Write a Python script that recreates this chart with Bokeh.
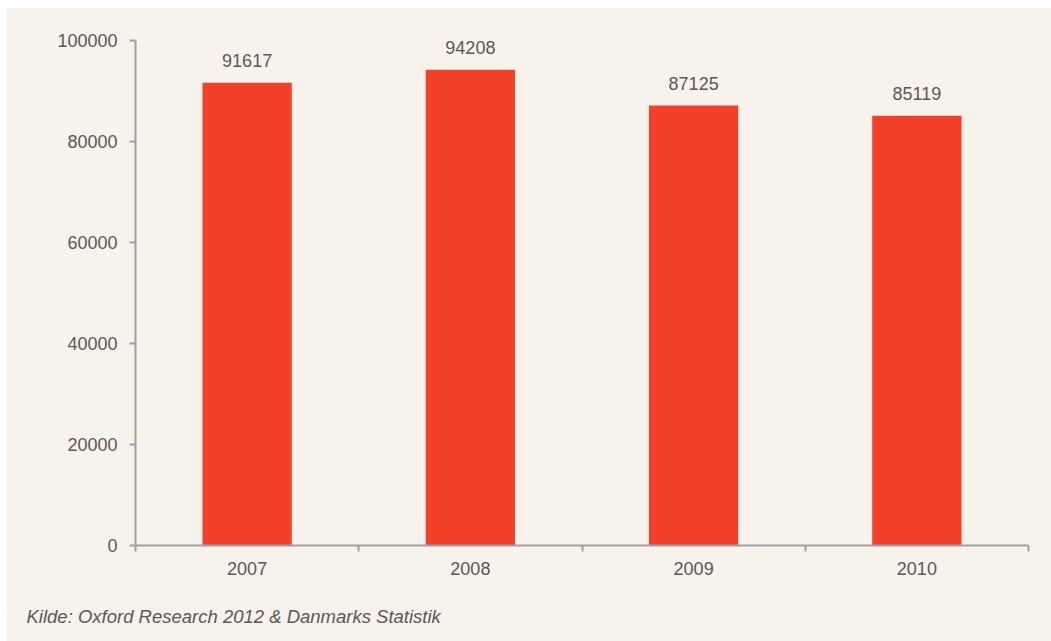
from bokeh.plotting import figure
from bokeh.models import ColumnDataSource, LabelSet, Title, FixedTicker, Range1d
from bokeh.core.properties import value
from bokeh.embed import file_html
from bokeh.resources import INLINE

years = ["2007", "2008", "2009", "2010"]
values = [91617, 94208, 87125, 85119]
y_ticks = [0, 20000, 40000, 60000, 80000, 100000]
source_note = "Kilde: Oxford Research 2012 & Danmarks Statistik"

BG = "#F7F2EC"
BAR = "#F44029"
TXT = "#595959"
AX = "#A0A0A0"
FONT = "Liberation Sans"
FS = "18px"

xs = [i + 0.5 for i in range(len(years))]
src = ColumnDataSource(dict(x=xs, top=values, label=[str(v) for v in values]))

p = figure(width=1045, height=634, output_backend="svg", toolbar_location=None,
           x_range=Range1d(0, len(years)), y_range=Range1d(0, 100000),
           min_border_left=129, min_border_right=23, min_border_top=33, min_border_bottom=96)
p.margin = (7, 0, 0, 6)
p.background_fill_color = BG
p.border_fill_color = BG
p.outline_line_color = None
p.grid.visible = False

p.vbar(x="x", top="top", width=0.4, bottom=0, source=src, fill_color=BAR, line_color=None)

labels = LabelSet(x="x", y="top", text="label", source=src, text_align="center",
                  text_baseline="middle", y_offset=22, text_color=TXT,
                  text_font=value(FONT), text_font_size=value(FS))
p.add_layout(labels)

xa = p.xaxis[0]
xa.ticker = FixedTicker(ticks=xs, minor_ticks=list(range(len(years) + 1)))
xa.major_label_overrides = {x: y for x, y in zip(xs, years)}
xa.major_tick_out = 0
xa.major_tick_in = 0
xa.minor_tick_out = 6
xa.minor_tick_in = 0
xa.minor_tick_line_color = AX
xa.minor_tick_line_width = 2
xa.major_label_standoff = 10
xa.axis_label = " "
xa.axis_label_text_font_size = "12px"
xa.axis_label_standoff = 3

ya = p.yaxis[0]
ya.ticker = FixedTicker(ticks=y_ticks)
ya.major_tick_out = 6
ya.major_tick_in = 0
ya.minor_tick_line_color = None
ya.major_label_standoff = 12
ya.formatter.use_scientific = False

for ax in (xa, ya):
    ax.axis_line_color = AX
    ax.axis_line_width = 2
    ax.major_tick_line_color = AX
    ax.major_tick_line_width = 2
    ax.major_label_text_color = TXT
    ax.major_label_text_font = FONT
    ax.major_label_text_font_size = FS

note = Title(text=source_note, align="left", offset=-109, standoff=12,
             text_font=FONT, text_font_style="italic", text_font_size="18.5px",
             text_color=TXT)
p.add_layout(note, "below")

open("out.html", "w").write(file_html(p, INLINE))
